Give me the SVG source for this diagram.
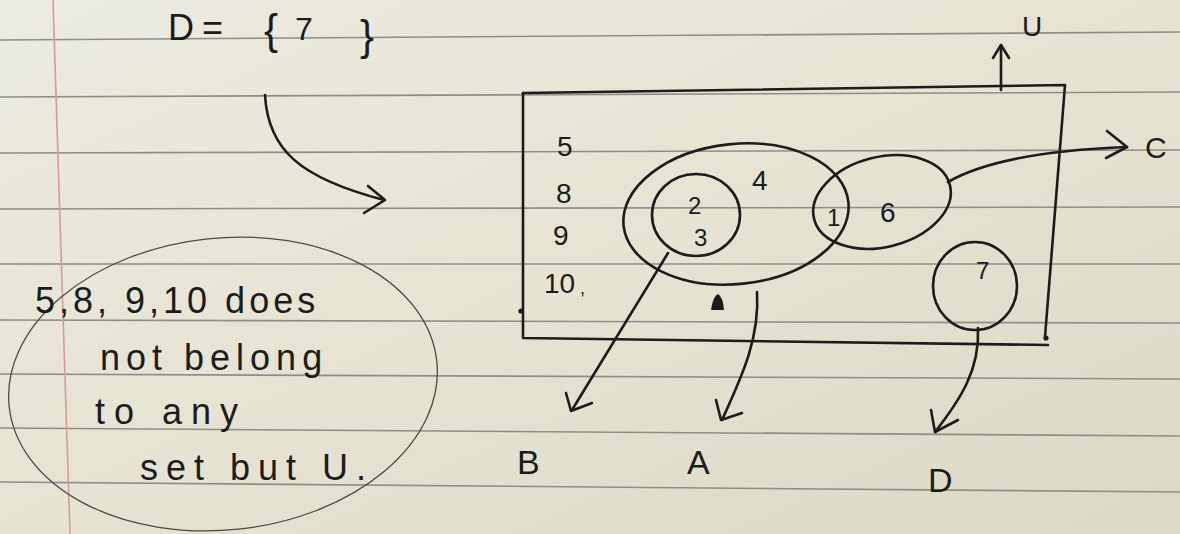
<svg xmlns="http://www.w3.org/2000/svg" width="1180" height="534" viewBox="0 0 1180 534">
<defs>
<linearGradient id="paper" x1="0" y1="0" x2="1" y2="1">
<stop offset="0" stop-color="#ecebe0"/>
<stop offset="0.5" stop-color="#e6e3d2"/>
<stop offset="1" stop-color="#dcd8c6"/>
</linearGradient>
<style>
.rule{stroke:#8e8e88;stroke-width:1.6;fill:none}
.ink{stroke:#1c1c1c;stroke-width:2.6;fill:none;stroke-linecap:round;stroke-linejoin:round}
.thin{stroke:#4a4a46;stroke-width:1.3;fill:none}
.t{font-family:"Liberation Sans",Arial,sans-serif;fill:#1c1c1c}
.num{font-size:28px}
.lab{font-size:34px}
.note{font-size:36px}
</style>
</defs>
<rect width="1180" height="534" fill="url(#paper)"/>
<g id="paper-lines">
<path class="rule" d="M0,40 L1180,32"/>
<path class="rule" d="M0,97 L1180,92"/>
<path class="rule" d="M0,153 L1180,150"/>
<path class="rule" d="M0,209 L1180,207"/>
<path class="rule" d="M0,264 L1180,264"/>
<path class="rule" d="M0,320 L1180,323"/>
<path class="rule" d="M0,374 L1180,379"/>
<path class="rule" d="M0,428 L1180,436"/>
<path class="rule" d="M0,482 L1180,492"/>
<path d="M53,0 L70,534" stroke="#d99a9a" stroke-width="1.6" fill="none"/>
</g>
<g id="title">
<text class="t" x="168" y="40" font-size="36" letter-spacing="8">D=</text>
<text class="t" x="264" y="44" font-size="42">{</text>
<text class="t" x="295" y="40" font-size="32">7</text>
<text class="t" x="360" y="50" font-size="42">}</text>
</g>
<g id="U">
<path class="ink" d="M523,93 L1065,85 L1045,337"/>
<path class="ink" d="M523,93 L523,338 L1048,345"/>
<circle cx="521" cy="311" r="2.6" fill="#1c1c1c"/>
<circle cx="1046" cy="338" r="2.6" fill="#1c1c1c"/>
<text class="t num" x="1022" y="36">U</text>
<text class="t num" x="557" y="156">5</text>
<text class="t num" x="556" y="203">8</text>
<text class="t num" x="553" y="245">9</text>
<text class="t num" x="544" y="293">10</text>
<text class="t" x="580" y="294" font-size="18">,</text>
</g>
<g id="A">
<ellipse class="ink" cx="736" cy="214" rx="113" ry="70" transform="rotate(-6 736 214)"/>
<text class="t num" x="752" y="190">4</text>
</g>
<g id="B">
<ellipse class="ink" cx="696" cy="215" rx="44" ry="41"/>
<text class="t" x="688" y="214" font-size="24">2</text>
<text class="t" x="694" y="246" font-size="24">3</text>
</g>
<g id="C">
<ellipse class="ink" cx="882" cy="202" rx="70" ry="45" transform="rotate(-14 882 202)"/>
<text class="t" x="827" y="226" font-size="24">1</text>
<text class="t num" x="880" y="222">6</text>
</g>
<g id="D">
<ellipse class="ink" cx="975" cy="286" rx="42" ry="44"/>
<text class="t" x="976" y="279" font-size="24">7</text>
</g>
<g id="blob">
<path d="M711,310 Q713,296 718,294 Q723,297 724,310 Z" fill="#1c1c1c"/>
</g>
<g id="note">
<ellipse class="thin" cx="223" cy="384" rx="215" ry="146" transform="rotate(-6 223 384)"/>
<text class="t note" x="35" y="313" letter-spacing="4">5,8, 9,10 does</text>
<text class="t note" x="100" y="370" letter-spacing="6">not belong</text>
<text class="t note" x="95" y="424" letter-spacing="9">to any</text>
<text class="t note" x="140" y="480" letter-spacing="8">set but U.</text>
</g>
<g id="labels">
<text class="t lab" x="517" y="474">B</text>
<text class="t lab" x="687" y="474">A</text>
<text class="t lab" x="928" y="492">D</text>
<text class="t" x="1145" y="158" font-size="30">C</text>
</g>
<g id="connectors">
<path class="ink" d="M265,95 C268,150 300,178 384,200"/>
<path class="ink" d="M368,186 L385,200 L364,213"/>
<path class="ink" d="M1001,90 L1001,45"/>
<path class="ink" d="M993,58 L1001,45 L1009,58"/>
<path class="ink" d="M948,182 Q1000,152 1127,147"/>
<path class="ink" d="M1107,131 L1127,147 L1106,158"/>
<path class="ink" d="M668,253 L572,410"/>
<path class="ink" d="M566,393 L571,411 L592,403"/>
<path class="ink" d="M757,292 C760,340 740,380 722,420"/>
<path class="ink" d="M716,400 L721,420 L742,413"/>
<path class="ink" d="M978,328 C980,370 960,400 935,432"/>
<path class="ink" d="M931,410 L935,432 L958,420"/>
</g>
</svg>
